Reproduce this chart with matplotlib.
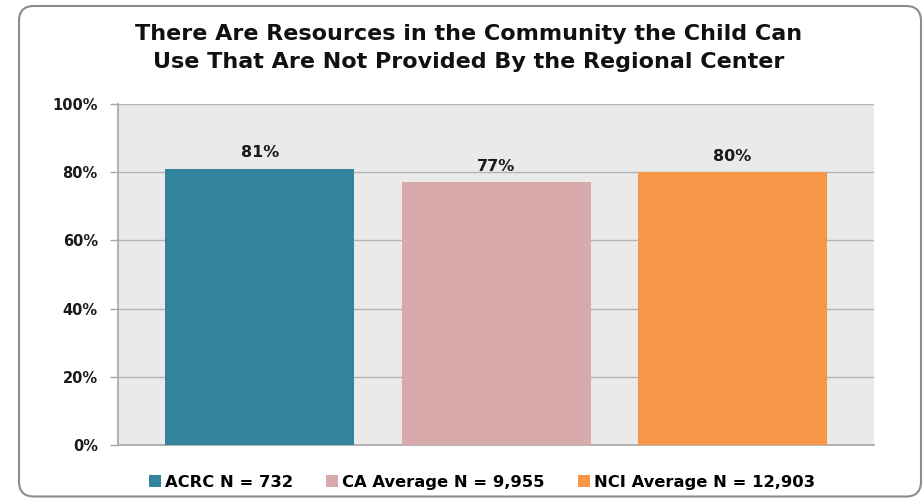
import matplotlib.pyplot as plt
from matplotlib.patches import FancyBboxPatch, Patch

# chart data
groups = ["ACRC N = 732", "CA Average N = 9,955", "NCI Average N = 12,903"]
values = [81, 77, 80]
bar_colors = ["#31849B", "#D9AAAB", "#F79646"]
y_ticks = [0, 20, 40, 60, 80, 100]
title = ("There Are Resources in the Community the Child Can\n"
         "Use That Are Not Provided By the Regional Center")


def draw_chart():
    fig = plt.figure(figsize=(9.23, 4.98), dpi=100)

    # rounded outer frame, laid out in inches
    frame = FancyBboxPatch((0.19, 0.015), 9.02, 4.905,
                           boxstyle="round,pad=0,rounding_size=0.15",
                           transform=fig.dpi_scale_trans, fill=False,
                           edgecolor="#8C8C8C", linewidth=1.5, zorder=0)
    fig.patches.append(frame)

    ax = fig.add_axes([118 / 923, 53 / 498, 756 / 923, 341 / 498])
    ax.set_facecolor("#EAEAEA")

    x = list(range(len(values)))
    bars = ax.bar(x, values, width=0.8, color=bar_colors, zorder=3)

    for rect, v in zip(bars, values):
        ax.annotate(f"{v}%", (rect.get_x() + rect.get_width() / 2, v),
                    xytext=(0, 6), textcoords="offset points",
                    ha="center", va="bottom", fontsize=11.5,
                    fontweight="bold", color="#1A1A1A")

    ax.set_xlim(-0.6, 2.6)
    ax.set_ylim(0, 100)
    ax.set_yticks(y_ticks)
    ax.set_yticklabels([f"{t}%" for t in y_ticks], fontsize=10.5,
                       fontweight="bold", color="#1A1A1A")
    ax.set_xticks([])
    ax.tick_params(axis="y", length=6, width=1, color="#A6A6A6", pad=8.5)
    ax.yaxis.grid(True, color="#B4B4B4", linewidth=1.0, zorder=0)
    ax.set_axisbelow(True)

    for side in ["top", "right"]:
        ax.spines[side].set_visible(False)
    for side in ["left", "bottom"]:
        ax.spines[side].set_color("#A6A6A6")
        ax.spines[side].set_linewidth(1.2)

    fig.text(0.508, 0.9036, title, ha="center", va="center", fontsize=16,
             fontweight="bold", linespacing=1.45, color="#111111")

    handles = [Patch(facecolor=c, edgecolor="none") for c in bar_colors]
    fig.legend(handles, groups, loc="center", bbox_to_anchor=(0.522, 0.032),
               ncol=3, frameon=False, handlelength=0.75, handleheight=0.75,
               handletextpad=0.25, columnspacing=2.0,
               prop={"weight": "bold", "size": 11.8})

    fig.savefig("out.png", dpi=100)


def main():
    draw_chart()


if __name__ == "__main__":
    main()
